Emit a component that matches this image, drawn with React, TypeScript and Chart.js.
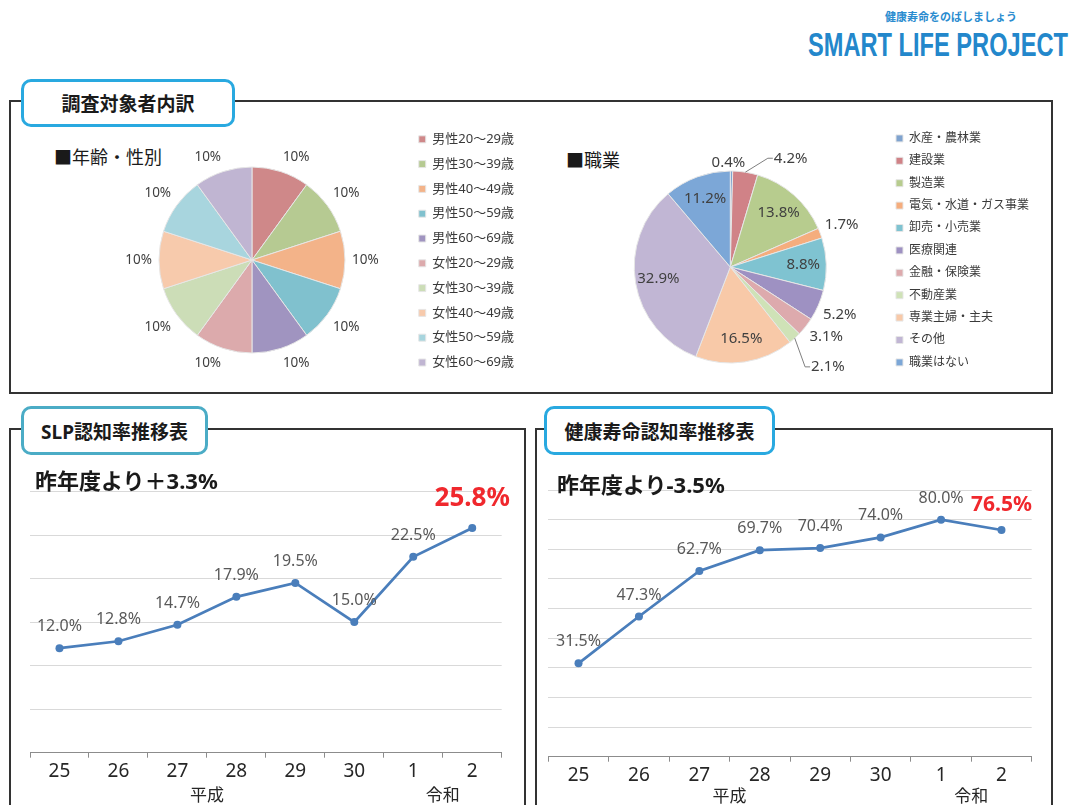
import React, { useEffect, useRef } from 'react';
import { Chart, registerables } from 'chart.js';

Chart.register(...registerables);

const FONT = "'Noto Sans', 'Noto Sans CJK JP', sans-serif";

// ---- 年齢・性別 ----
const ageLabels = ['男性20～29歳', '男性30～39歳', '男性40～49歳', '男性50～59歳', '男性60～69歳', '女性20～29歳', '女性30～39歳', '女性40～49歳', '女性50～59歳', '女性60～69歳'];
const ageValues = [10, 10, 10, 10, 10, 10, 10, 10, 10, 10];
const ageColors = ['#cf8889', '#b6ca92', '#f3b389', '#80c1ce', '#a094c0', '#dcaaac', '#ccddb7', '#f7caac', '#a8d5de', '#c0b5d2'];

// ---- 職業 ----
const jobLabels = ['水産・農林業', '建設業', '製造業', '電気・水道・ガス事業', '卸売・小売業', '医療関連', '金融・保険業', '不動産業', '専業主婦・主夫', 'その他', '職業はない'];
const jobValues = [0.4, 4.2, 13.8, 1.7, 8.8, 5.2, 3.1, 2.1, 16.5, 32.9, 11.2];
const jobColors = ['#7fa3cf', '#d08287', '#b7cc8e', '#f5ad7d', '#7fc3d1', '#9e91c2', '#ddaaad', '#cfe2b7', '#f8c9a8', '#c1b6d4', '#7ca7d7'];

// ---- 推移表 ----
const years = ['25', '26', '27', '28', '29', '30', '1', '2'];
const eras = [
  { label: '平成', from: 2, to: 3 },
  { label: '令和', from: 6, to: 7 },
];
const slpValues = [12.0, 12.8, 14.7, 17.9, 19.5, 15.0, 22.5, 25.8];
const kenkoValues = [31.5, 47.3, 62.7, 69.7, 70.4, 74.0, 80.0, 76.5];

const clamp1 = (v: number) => Math.max(-1, Math.min(1, v));

const pieLabelPlugin = {
  id: 'pieLabels',
  afterDatasetsDraw(chart: any, _args: any, opts: any) {
    const ctx = chart.ctx;
    const meta = chart.getDatasetMeta(0);
    const values = chart.data.datasets[0].data as number[];
    ctx.save();
    ctx.font = `${opts.size}px ${FONT}`;
    ctx.textAlign = 'center';
    ctx.textBaseline = 'middle';
    meta.data.forEach((arc: any, i: number) => {
      const { x, y, startAngle, endAngle, outerRadius } = arc.getProps(['x', 'y', 'startAngle', 'endAngle', 'outerRadius'], true);
      const mid = (startAngle + endAngle) / 2;
      const ux = Math.cos(mid);
      const uy = Math.sin(mid);
      const v = values[i];
      const text = opts.decimals ? v.toFixed(1) + '%' : v + '%';
      const w = ctx.measureText(text).width;
      let lx: number;
      let ly: number;
      if (v >= opts.insideMin) {
        lx = x + ux * outerRadius * opts.insideRatio;
        ly = y + uy * outerRadius * opts.insideRatio;
      } else {
        const R = outerRadius + opts.gap;
        lx = x + ux * R + (w / 2) * clamp1(ux * 4);
        ly = y + uy * R + opts.halfHeight * clamp1(uy * 4);
      }
      const mv = opts.moves ? opts.moves[i] : null;
      if (mv) {
        lx += mv.dx;
        ly += mv.dy;
        if (mv.leader) {
          ctx.strokeStyle = '#7f7f7f';
          ctx.lineWidth = 1;
          ctx.beginPath();
          ctx.moveTo(x + ux * outerRadius, y + uy * outerRadius);
          ctx.lineTo(lx - w / 2 - 6, ly);
          ctx.lineTo(lx - w / 2 - 1, ly);
          ctx.stroke();
        }
      }
      ctx.fillStyle = opts.color;
      ctx.fillText(text, lx, ly);
    });
    ctx.restore();
  },
};

const lineLabelPlugin = {
  id: 'lineLabels',
  afterDatasetsDraw(chart: any, _args: any, opts: any) {
    const ctx = chart.ctx;
    const meta = chart.getDatasetMeta(0);
    const vals = chart.data.datasets[0].data as number[];
    ctx.save();
    ctx.textAlign = 'center';
    ctx.textBaseline = 'middle';
    meta.data.forEach((pt: any, i: number) => {
      const last = i === vals.length - 1;
      const { x, y } = pt.getProps(['x', 'y'], true);
      ctx.font = last ? `bold ${opts.lastSize}px ${FONT}` : `${opts.size}px ${FONT}`;
      ctx.fillStyle = last ? '#f0282d' : '#595959';
      ctx.fillText(vals[i].toFixed(1) + '%', x, y - (last ? opts.lastOffset : opts.offset));
    });
    const xs = chart.scales.x;
    ctx.font = `17px ${FONT}`;
    ctx.fillStyle = '#262626';
    eras.forEach((e) => {
      const ex = (xs.getPixelForValue(e.from) + xs.getPixelForValue(e.to)) / 2;
      ctx.fillText(e.label, ex, chart.chartArea.bottom + opts.eraDy);
    });
    ctx.restore();
  },
};

function pieConfig(labels: string[], values: number[], colors: string[], o: any) {
  return {
    type: 'pie',
    data: {
      labels,
      datasets: [{ data: values, backgroundColor: colors, borderColor: '#e6e6e6', borderWidth: 1 }],
    },
    options: {
      animation: false,
      responsive: false,
      maintainAspectRatio: false,
      radius: o.radius,
      layout: { padding: o.padding },
      plugins: {
        legend: {
          position: 'right',
          align: 'start',
          labels: {
            boxWidth: 7,
            boxHeight: 7,
            padding: o.legendPadding,
            font: { size: o.legendSize, family: FONT },
            color: '#3a3a3a',
          },
        },
        tooltip: { enabled: false },
        pieLabels: o.labels,
      },
    },
    plugins: [pieLabelPlugin],
  };
}

function lineConfig(values: number[], max: number, step: number, o: any) {
  return {
    type: 'line',
    data: {
      labels: years,
      datasets: [
        {
          data: values,
          borderColor: '#4a7ebb',
          backgroundColor: '#4a7ebb',
          pointBackgroundColor: '#4a7ebb',
          borderWidth: 2.75,
          pointRadius: 4,
          pointBorderWidth: 0,
          tension: 0,
        },
      ],
    },
    options: {
      animation: false,
      responsive: false,
      maintainAspectRatio: false,
      layout: { padding: o.padding },
      plugins: {
        legend: { display: false },
        tooltip: { enabled: false },
        lineLabels: { size: 16, offset: 21.5, lastSize: o.lastSize, lastOffset: o.lastOffset, eraDy: o.eraDy },
      },
      scales: {
        x: {
          offset: true,
          grid: { offset: true, drawOnChartArea: false, drawTicks: true, tickLength: 5, color: '#8c8c8c' },
          border: { color: '#8c8c8c', width: 1 },
          ticks: { font: { size: 19, family: FONT }, color: '#262626', padding: 2, maxRotation: 0 },
          afterFit: (s: any) => {
            s.height = 40;
          },
        },
        y: {
          min: 0,
          max,
          ticks: { stepSize: step, display: false },
          grid: {
            drawTicks: false,
            color: (c: any) => (c.tick && c.tick.value === 0 ? 'rgba(0,0,0,0)' : '#d9d9d9'),
          },
          border: { display: false },
          afterFit: (s: any) => {
            s.width = 0;
          },
        },
      },
    },
    plugins: [lineLabelPlugin],
  };
}

function ChartCanvas({ make, left, top, width, height }: any) {
  const ref = useRef<HTMLCanvasElement | null>(null);
  useEffect(() => {
    const chart = new Chart(ref.current as HTMLCanvasElement, make());
    return () => chart.destroy();
  }, []);
  return <canvas ref={ref} width={width} height={height} style={{ position: 'absolute', left, top, width, height }} />;
}

const boxStyle = (left: number, top: number, width: number, height: number): React.CSSProperties => ({
  position: 'absolute',
  left,
  top,
  width,
  height,
  border: '2px solid #333',
  boxSizing: 'border-box',
});

const tabStyle = (left: number, top: number, width: number, height: number, color: string): React.CSSProperties => ({
  position: 'absolute',
  left,
  top,
  width,
  height,
  border: `3px solid ${color}`,
  borderRadius: 10,
  background: '#fff',
  boxSizing: 'border-box',
  display: 'flex',
  alignItems: 'center',
  justifyContent: 'center',
  fontWeight: 700,
  fontSize: 19,
  color: '#1a1a1a',
  fontFamily: FONT,
});

const textStyle = (left: number, top: number, size: number, extra: React.CSSProperties = {}): React.CSSProperties => ({
  position: 'absolute',
  left,
  top,
  fontSize: size,
  lineHeight: `${size}px`,
  whiteSpace: 'nowrap',
  fontFamily: FONT,
  color: '#1a1a1a',
  ...extra,
});

export default function App() {
  return (
    <div style={{ position: 'absolute', left: 0, top: 0, width: 1070, height: 805, overflow: 'hidden', background: '#fff', fontFamily: FONT }}>
      <div style={textStyle(85, -33, 30, { fontWeight: 700, color: '#222' })}>「健康寿命」と「スマート・ライフ・プロジェクト」の認知度調査結果</div>
      <div style={textStyle(885, 11, 11, { fontWeight: 700, color: '#2a8ccf' })}>健康寿命をのばしましょう</div>
      <div
        style={textStyle(808, 28, 33, {
          fontFamily: "'Liberation Sans', Arial, sans-serif",
          fontWeight: 700,
          color: '#2387cb',
          transform: 'scaleX(0.716)',
          transformOrigin: 'left top',
        })}
      >
        SMART LIFE PROJECT
      </div>

      <div style={boxStyle(9, 100, 1044, 294)} />
      <div style={tabStyle(21, 79, 214, 48, '#29a9e0')}>調査対象者内訳</div>
      <div style={textStyle(54, 148, 18)}>■年齢・性別</div>
      <div style={textStyle(566, 151, 18)}>■職業</div>

      <ChartCanvas
        left={97}
        top={100}
        width={427}
        height={320}
        make={() =>
          pieConfig(ageLabels, ageValues, ageColors, {
            radius: 93,
            padding: { top: 21, bottom: 21, left: 0, right: 0 },
            legendPadding: 11.8,
            legendSize: 13,
            labels: { size: 13.5, color: '#404040', decimals: false, insideMin: 999, insideRatio: 0.7, gap: 7, halfHeight: 8 },
          })
        }
      />
      <ChartCanvas
        left={575}
        top={100}
        width={464}
        height={330}
        make={() =>
          pieConfig(jobLabels, jobValues, jobColors, {
            radius: 96,
            padding: { top: 22, bottom: 18, left: 0, right: 0 },
            legendPadding: 10.4,
            legendSize: 12,
            labels: {
              size: 15,
              color: '#404040',
              decimals: true,
              insideMin: 8,
              insideRatio: 0.76,
              gap: 5,
              halfHeight: 7,
              moves: { 0: { dx: -4, dy: 4, leader: false }, 1: { dx: 34, dy: -2, leader: true }, 7: { dx: 13, dy: 18, leader: true } },
            },
          })
        }
      />

      <div style={boxStyle(9, 428, 517, 420)} />
      <div style={boxStyle(535, 428, 518, 420)} />

      <ChartCanvas
        left={12}
        top={455}
        width={512}
        height={350}
        make={() =>
          lineConfig(slpValues, 30, 5, {
            padding: { left: 18, right: 22.3, top: 36.5, bottom: 12.3 },
            lastSize: 26,
            lastOffset: 29,
            eraDy: 43.5,
          })
        }
      />
      <ChartCanvas
        left={537}
        top={455}
        width={515}
        height={350}
        make={() =>
          lineConfig(kenkoValues, 90, 10, {
            padding: { left: 11.3, right: 20.3, top: 35, bottom: 8.3 },
            lastSize: 21,
            lastOffset: 25,
            eraDy: 40,
          })
        }
      />

      <div style={tabStyle(21, 406, 187, 49, '#4bacc6')}>SLP認知率推移表</div>
      <div style={tabStyle(544, 406, 231, 49, '#29a9e0')}>健康寿命認知率推移表</div>
      <div style={textStyle(35, 469, 22, { fontWeight: 700 })}>昨年度より＋3.3%</div>
      <div style={textStyle(557, 473, 22, { fontWeight: 700 })}>昨年度より-3.5%</div>
    </div>
  );
}
